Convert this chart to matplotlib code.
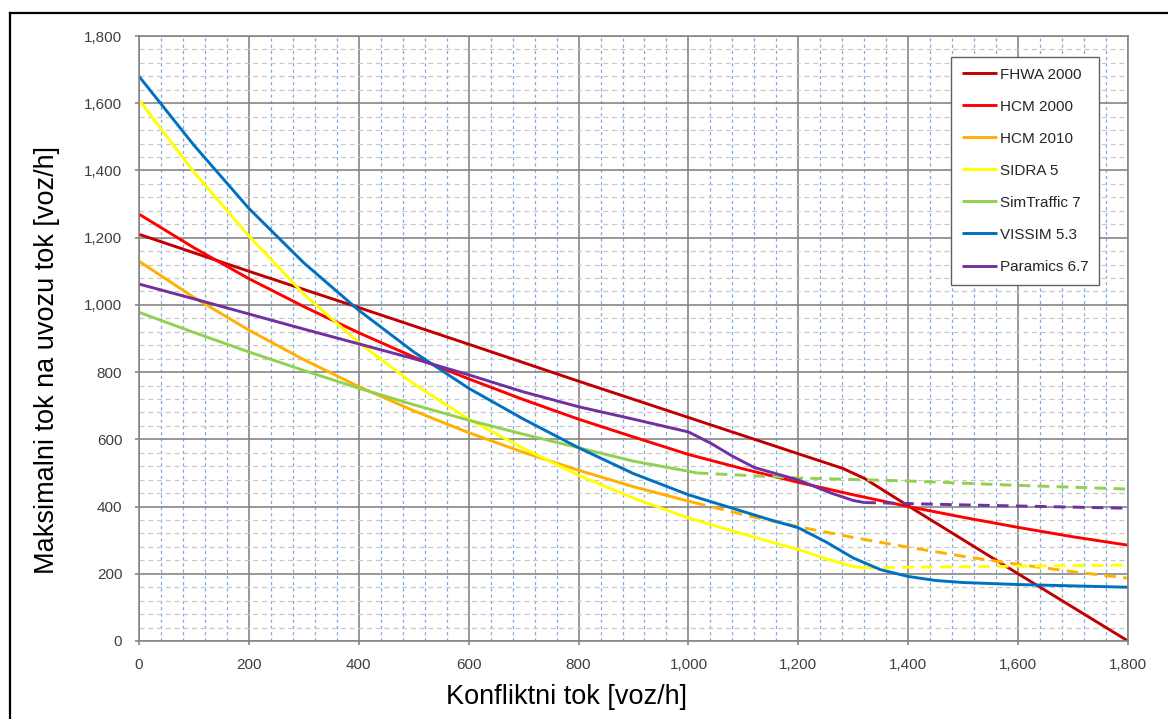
"""Capacity curves of a single-lane roundabout entry vs. conflicting flow."""
import matplotlib
matplotlib.use("Agg")
import matplotlib.pyplot as plt
from matplotlib.lines import Line2D
from matplotlib.ticker import MultipleLocator, FuncFormatter

plt.rcParams["font.family"] = ["Liberation Sans", "DejaVu Sans"]

# --- data: conflicting flow [veh/h] -> max entry flow [veh/h] ---
fhwa_x = [0, 200, 400, 600, 800, 1000, 1200, 1280, 1320, 1400, 1600, 1800]
fhwa_y = [1210, 1100, 992, 883, 773, 665, 557, 514, 484, 402, 200, 0]

hcm00_x = [0, 100, 200, 300, 400, 500, 600, 700, 800, 900, 1000, 1100, 1200, 1300, 1400, 1500, 1600, 1700, 1800]
hcm00_y = [1270, 1170, 1078, 995, 917, 845, 780, 718, 660, 607, 555, 512, 472, 435, 400, 368, 338, 310, 285]

hcm10_x = [0, 100, 200, 300, 400, 500, 600, 700, 800, 900, 1000, 1010]
hcm10_y = [1130, 1022, 925, 837, 757, 685, 620, 561, 508, 459, 416, 412]
hcm10_ext_x = [1010, 1100, 1200, 1300, 1400, 1500, 1600, 1700, 1800]
hcm10_ext_y = [412, 376, 340, 308, 279, 252, 228, 206, 187]

sidra_x = [0, 100, 200, 300, 400, 500, 600, 700, 800, 900, 1000, 1100, 1200, 1260, 1300, 1320]
sidra_y = [1610, 1395, 1205, 1032, 888, 765, 660, 573, 493, 425, 366, 318, 272, 240, 222, 218]
sidra_ext_x = [1320, 1500, 1800]
sidra_ext_y = [218, 221, 226]

simtr_x = [0, 100, 200, 300, 400, 500, 600, 700, 800, 900, 1000, 1015]
simtr_y = [978, 918, 860, 805, 752, 703, 657, 615, 575, 535, 505, 500]
simtr_ext_x = [1015, 1200, 1400, 1600, 1800]
simtr_ext_y = [500, 485, 476, 463, 452]

vissim_x = [0, 100, 200, 300, 400, 500, 600, 700, 800, 900, 1000, 1100, 1150, 1200, 1250, 1300,
            1350, 1400, 1450, 1500, 1600, 1700, 1800]
vissim_y = [1680, 1475, 1287, 1125, 984, 860, 752, 660, 575, 498, 435, 385, 360, 337, 295, 247,
            212, 192, 180, 174, 168, 164, 160]

param_x = [0, 100, 200, 300, 400, 500, 600, 700, 800, 900, 1000, 1040, 1080, 1120, 1200, 1260, 1300, 1320]
param_y = [1062, 1018, 973, 928, 884, 840, 792, 741, 697, 660, 622, 589, 550, 516, 479, 440, 418, 412]
param_ext_x = [1320, 1500, 1800]
param_ext_y = [412, 405, 395]

series = [
    ("FHWA 2000", "#C00000", (fhwa_x, fhwa_y), None),
    ("HCM 2000", "#FF0000", (hcm00_x, hcm00_y), None),
    ("HCM 2010", "#FFB000", (hcm10_x, hcm10_y), (hcm10_ext_x, hcm10_ext_y)),
    ("SIDRA 5", "#FFFF00", (sidra_x, sidra_y), (sidra_ext_x, sidra_ext_y)),
    ("SimTraffic 7", "#92D050", (simtr_x, simtr_y), (simtr_ext_x, simtr_ext_y)),
    ("VISSIM 5.3", "#0070C0", (vissim_x, vissim_y), None),
    ("Paramics 6.7", "#7030A0", (param_x, param_y), (param_ext_x, param_ext_y)),
]

W, H = 1168, 719
fig = plt.figure(figsize=(W / 100, H / 100), dpi=100)
ax = fig.add_axes([139 / W, 1 - 641 / H, (1128 - 139) / W, (641 - 36) / H])

# grid: solid major every 200, dotted/dashed minor every 40
ax.xaxis.set_major_locator(MultipleLocator(200))
ax.yaxis.set_major_locator(MultipleLocator(200))
ax.xaxis.set_minor_locator(MultipleLocator(40))
ax.yaxis.set_minor_locator(MultipleLocator(40))
ax.grid(which="minor", axis="x", color="#7FAADC", lw=0.9, ls=(0, (2.5, 2.5)))
ax.grid(which="minor", axis="y", color="#C8C8C8", lw=0.9, ls=(0, (4, 3)))
ax.grid(which="major", color="#868686", lw=1.2, ls="-")
ax.set_axisbelow(True)

lw = 2.1
for name, col, (xs, ys), ext in series:
    ax.plot(xs, ys, color=col, lw=lw, solid_capstyle="butt", label=name)
    if ext is not None:
        ax.plot(ext[0], ext[1], color=col, lw=lw, ls=(0, (4, 2.5)))

ax.set_xlim(0, 1800)
ax.set_ylim(0, 1800)
fmt = FuncFormatter(lambda v, p: f"{int(v):,}")
ax.xaxis.set_major_formatter(fmt)
ax.yaxis.set_major_formatter(fmt)
ax.tick_params(which="major", direction="out", length=3, width=1.2, color="#868686",
               labelsize=11, labelcolor="#404040", pad=9)
ax.tick_params(which="minor", length=0)
for s in ax.spines.values():
    s.set_color("#868686")
    s.set_linewidth(1.2)

leg = ax.legend(loc="upper left", bbox_to_anchor=(951 / W, 1 - 57 / H),
                bbox_transform=fig.transFigure, borderaxespad=0, fancybox=False,
                edgecolor="#606060", framealpha=1, fontsize=11, handlelength=2.3,
                handletextpad=0.2, labelspacing=1.18, borderpad=0.7)
leg.get_frame().set_linewidth(1.0)
for t in leg.get_texts():
    t.set_color("#262626")

fig.text(47 / W, 1 - 360 / H, "Maksimalni tok na uvozu tok [voz/h]", rotation=90,
         ha="center", va="center", fontsize=19.5)
fig.text(566 / W, 1 - 697 / H, "Konfliktni tok [voz/h]", ha="center", va="center", fontsize=19.5)

# outer frame (left and top edges)
fig.add_artist(Line2D([10 / W, 10 / W], [0, 1 - 13 / H], color="black", lw=1.6))
fig.add_artist(Line2D([10 / W, 1], [1 - 13 / H, 1 - 13 / H], color="black", lw=1.6))

fig.savefig("out.png", dpi=100)
